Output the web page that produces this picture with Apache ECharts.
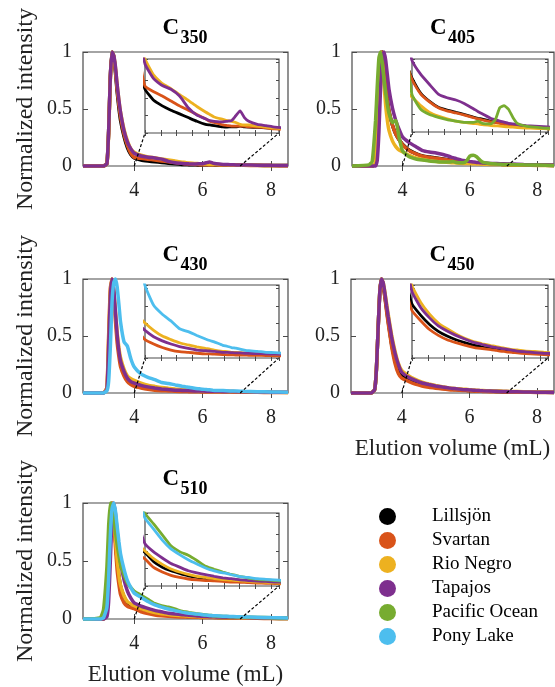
<!DOCTYPE html>
<html><head><meta charset="utf-8">
<script src="https://cdn.jsdelivr.net/npm/echarts@6/dist/echarts.min.js"></script>
<style>html,body{margin:0;padding:0;background:#fff}#c{width:555px;height:687px}</style>
</head><body><div id="c"></div>
<script>
// ---------- data ----------
const volume = [2.5,3.0,3.1,3.2,3.25,3.3,3.35,3.4,3.45,3.5,3.55,3.6,3.7,3.8,3.9,
  4.0,4.2,4.4,4.6,4.8,5.0,5.2,5.4,5.5,5.6,5.8,5.9,6.0,6.1,6.2,6.3,6.4,6.6,6.8,7.0,7.2,7.6,8.0,8.5];
const samples = ['Lillsjön','Svartan','Rio Negro','Tapajos','Pacific Ocean','Pony Lake'];
const sampleColors = ['#000000','#D95319','#EDB120','#7E2F8E','#77AC30','#4DBEEE'];
const panelLabels = ['350','405','430','450','510'];
const xTicks = [4,6,8];
const yTicks = [0,0.5,1];
const zoomWindow = [4,7.1];
const insetYMax = [0.12,0.26,0.23,0.2,0.24];

// C350
const c350_lillsjon = [0,0,0,0.02,0.3,0.78,1.0,0.96,0.82,0.65,0.51,0.4,0.26,0.16,0.1,
  0.071,0.053,0.044,0.037,0.031,0.025,0.019,0.014,0.013,0.012,0.010,0.0096,0.010,0.010,0.011,0.010,0.0096,0.009,0.0084,0.0078,0.0072,0.006,0.0048,0.0036];
const c350_svartan = [0,0,0,0.02,0.3,0.78,1.0,0.96,0.84,0.67,0.54,0.43,0.28,0.18,0.11,
  0.076,0.067,0.060,0.052,0.044,0.037,0.030,0.023,0.019,0.017,0.013,0.012,0.011,0.011,0.011,0.011,0.010,0.0096,0.0084,0.0066,0.006,0.0048,0.0036,0.0024];
const c350_rionegro = [0,0,0,0.02,0.28,0.75,1.0,0.97,0.86,0.71,0.58,0.47,0.32,0.22,0.15,
  0.12,0.094,0.080,0.072,0.062,0.053,0.043,0.034,0.030,0.026,0.022,0.020,0.019,0.017,0.014,0.013,0.013,0.011,0.0096,0.0078,0.0072,0.006,0.0048,0.0036];
const c350_tapajos = [0,0,0,0.02,0.3,0.78,1.0,0.97,0.87,0.71,0.58,0.47,0.31,0.21,0.15,
  0.112,0.088,0.077,0.071,0.060,0.041,0.029,0.023,0.020,0.019,0.018,0.019,0.020,0.028,0.036,0.025,0.019,0.014,0.012,0.0096,0.0084,0.0072,0.006,0.0048];
// C405
const c405_lillsjon = [0,0,0,0.02,0.25,0.7,0.97,1.0,0.87,0.71,0.58,0.48,0.36,0.28,0.23,
  0.192,0.138,0.109,0.088,0.078,0.070,0.062,0.053,0.049,0.046,0.038,0.035,0.033,0.029,0.027,0.025,0.023,0.020,0.017,0.014,0.013,0.010,0.008,0.005];
const c405_svartan = [0,0,0,0.02,0.25,0.7,0.97,1.0,0.88,0.72,0.58,0.48,0.36,0.28,0.23,
  0.187,0.135,0.107,0.086,0.075,0.068,0.060,0.051,0.047,0.043,0.036,0.034,0.031,0.027,0.025,0.023,0.022,0.018,0.016,0.014,0.012,0.009,0.0065,0.0047];
const c405_rionegro = [0,0,0,0.03,0.35,0.8,1.0,0.9,0.72,0.53,0.4,0.31,0.22,0.17,0.14,
  0.125,0.094,0.070,0.057,0.047,0.039,0.034,0.030,0.029,0.026,0.023,0.022,0.021,0.0195,0.018,0.017,0.016,0.014,0.013,0.012,0.010,0.008,0.005,0.004];
const c405_tapajos = [0,0,0,0,0.05,0.3,0.7,0.95,1.0,0.93,0.8,0.67,0.51,0.4,0.32,
  0.255,0.205,0.169,0.135,0.122,0.114,0.101,0.083,0.073,0.065,0.048,0.044,0.039,0.035,0.031,0.029,0.026,0.023,0.021,0.019,0.017,0.013,0.010,0.008];
const c405_pacific = [0,0.01,0.04,0.4,0.7,0.95,1.0,0.9,0.76,0.64,0.54,0.46,0.38,0.4,0.25,
  0.133,0.081,0.062,0.052,0.044,0.039,0.034,0.034,0.039,0.031,0.029,0.044,0.086,0.094,0.081,0.052,0.031,0.021,0.017,0.014,0.013,0.010,0.008,0.005];
// C430
const c430_svartan = [0,0,0,0.05,0.5,0.92,1.0,0.86,0.63,0.44,0.32,0.23,0.15,0.1,0.075,
  0.058,0.044,0.033,0.025,0.020,0.018,0.015,0.013,0.013,0.012,0.011,0.010,0.0097,0.0094,0.0092,0.009,0.0087,0.0083,0.0078,0.0071,0.0067,0.0055,0.0046,0.0035];
const c430_rionegro = [0,0,0,0.04,0.45,0.88,1.0,0.9,0.71,0.53,0.4,0.31,0.21,0.15,0.125,
  0.110,0.087,0.069,0.058,0.048,0.041,0.035,0.030,0.028,0.025,0.021,0.020,0.018,0.018,0.017,0.016,0.016,0.015,0.014,0.012,0.011,0.009,0.007,0.005];
const c430_tapajos = [0,0,0,0.03,0.4,0.85,1.0,0.91,0.71,0.51,0.37,0.28,0.19,0.13,0.1,
  0.087,0.067,0.054,0.044,0.036,0.030,0.025,0.023,0.022,0.021,0.018,0.018,0.017,0.016,0.016,0.015,0.015,0.014,0.013,0.012,0.011,0.009,0.007,0.006];
const c430_ponylake = [0,0,0,0.02,0.1,0.4,0.8,0.97,1.0,0.93,0.78,0.62,0.45,0.41,0.3,
  0.228,0.166,0.138,0.117,0.092,0.083,0.071,0.060,0.055,0.051,0.040,0.037,0.033,0.031,0.028,0.025,0.023,0.021,0.018,0.017,0.015,0.0115,0.009,0.007];
// C450
const c450_lillsjon = [0,0,0,0.03,0.2,0.55,0.88,1.0,0.95,0.85,0.74,0.63,0.43,0.29,0.2,
  0.148,0.117,0.092,0.073,0.06,0.05,0.042,0.035,0.033,0.03,0.026,0.024,0.022,0.021,0.019,0.018,0.017,0.015,0.014,0.012,0.011,0.0088,0.007,0.0054];
const c450_svartan = [0,0,0,0.03,0.2,0.55,0.88,1.0,0.95,0.84,0.72,0.61,0.41,0.26,0.17,
  0.13,0.102,0.078,0.062,0.05,0.042,0.035,0.029,0.027,0.026,0.023,0.021,0.019,0.018,0.016,0.015,0.014,0.012,0.011,0.0092,0.008,0.0064,0.005,0.0036];
const c450_rionegro = [0,0,0,0.03,0.2,0.55,0.88,1.0,0.97,0.89,0.79,0.69,0.51,0.37,0.26,
  0.198,0.152,0.12,0.096,0.08,0.066,0.054,0.045,0.042,0.039,0.034,0.032,0.029,0.027,0.025,0.023,0.022,0.019,0.018,0.016,0.014,0.012,0.009,0.007];
const c450_tapajos = [0,0,0,0.03,0.2,0.55,0.88,1.0,0.97,0.88,0.77,0.67,0.49,0.35,0.25,
  0.182,0.138,0.11,0.088,0.074,0.062,0.052,0.043,0.04,0.037,0.031,0.029,0.027,0.025,0.023,0.021,0.019,0.017,0.015,0.013,0.012,0.0096,0.0076,0.006];
// C510
const c510_lillsjon = [0,0,0,0.05,0.45,0.88,1.0,0.89,0.68,0.5,0.37,0.28,0.19,0.14,0.12,
  0.11,0.08,0.062,0.05,0.041,0.033,0.028,0.025,0.023,0.022,0.021,0.02,0.019,0.018,0.017,0.016,0.015,0.013,0.012,0.011,0.0096,0.0077,0.006,0.0046];
const c510_svartan = [0,0,0,0.05,0.45,0.88,1.0,0.86,0.62,0.42,0.3,0.21,0.14,0.11,0.098,
  0.089,0.061,0.046,0.035,0.028,0.023,0.02,0.018,0.018,0.017,0.015,0.014,0.013,0.013,0.012,0.012,0.011,0.0098,0.0089,0.0079,0.0072,0.0058,0.0046,0.0034];
const c510_rionegro = [0,0,0,0.05,0.45,0.88,1.0,0.89,0.69,0.51,0.38,0.29,0.2,0.15,0.13,
  0.115,0.09,0.071,0.056,0.046,0.038,0.032,0.028,0.026,0.024,0.021,0.02,0.019,0.018,0.017,0.016,0.015,0.013,0.012,0.01,0.0094,0.0074,0.0058,0.0043];
const c510_tapajos = [0,0,0,0.02,0.15,0.5,0.88,1.0,0.91,0.75,0.61,0.49,0.34,0.24,0.18,
  0.139,0.112,0.092,0.074,0.062,0.05,0.043,0.037,0.035,0.032,0.027,0.025,0.024,0.022,0.02,0.019,0.018,0.016,0.015,0.013,0.012,0.0096,0.0077,0.006];
const c510_pacific = [0,0.01,0.08,0.45,0.8,1.0,0.97,0.88,0.75,0.64,0.55,0.47,0.38,0.31,0.27,
  0.238,0.204,0.168,0.132,0.113,0.101,0.084,0.065,0.06,0.055,0.046,0.042,0.038,0.035,0.031,0.029,0.026,0.022,0.02,0.018,0.016,0.013,0.011,0.008];
const c510_ponylake = [0,0,0.01,0.1,0.35,0.72,0.95,1.0,0.93,0.8,0.67,0.56,0.43,0.33,0.27,
  0.223,0.187,0.151,0.122,0.103,0.086,0.072,0.059,0.054,0.05,0.043,0.041,0.037,0.034,0.031,0.029,0.028,0.024,0.022,0.02,0.018,0.015,0.012,0.0096];

const panelData = [
  [['Lillsjön',c350_lillsjon],['Svartan',c350_svartan],['Rio Negro',c350_rionegro],['Tapajos',c350_tapajos]],
  [['Lillsjön',c405_lillsjon],['Svartan',c405_svartan],['Rio Negro',c405_rionegro],['Tapajos',c405_tapajos],['Pacific Ocean',c405_pacific]],
  [['Svartan',c430_svartan],['Rio Negro',c430_rionegro],['Tapajos',c430_tapajos],['Pony Lake',c430_ponylake]],
  [['Lillsjön',c450_lillsjon],['Svartan',c450_svartan],['Rio Negro',c450_rionegro],['Tapajos',c450_tapajos]],
  [['Lillsjön',c510_lillsjon],['Svartan',c510_svartan],['Rio Negro',c510_rionegro],['Tapajos',c510_tapajos],['Pacific Ocean',c510_pacific],['Pony Lake',c510_ponylake]]
];

// ---------- layout ----------
const mainBoxes = [
  {left:83,top:52,width:205,height:114},
  {left:352,top:52,width:202,height:114},
  {left:83,top:279,width:205,height:114},
  {left:351,top:279,width:203,height:114},
  {left:83,top:503,width:205,height:117}
];
const insetBoxes = [
  {left:145,top:59,width:134,height:74},
  {left:412,top:59,width:136,height:73},
  {left:145,top:285,width:134,height:73},
  {left:412,top:285,width:136,height:73},
  {left:145,top:513,width:134,height:73}
];
const FONT = '"Liberation Serif","Times New Roman",serif';
const AX = '#4a4a4a';
const TXT = '#222';

const grids = [], xAxes = [], yAxes = [], series = [];
mainBoxes.forEach(b => grids.push(Object.assign({show:true, borderColor:AX, borderWidth:1.2, backgroundColor:'transparent', containLabel:false}, b)));
insetBoxes.forEach(b => grids.push(Object.assign({show:true, borderColor:AX, borderWidth:1.2, backgroundColor:'#fff', z:5, containLabel:false}, b)));

panelLabels.forEach((lab, p) => {
  const showX = (p === 3 || p === 4);
  const showY = (p === 0 || p === 2 || p === 4);
  const tick = {show:true, inside:true, length:5, customValues:xTicks, lineStyle:{color:AX, width:1}};
  xAxes.push({gridIndex:p, type:'value', position:'bottom', min:2.5, max:8.5,
    axisLine:{show:false}, splitLine:{show:false}, axisTick:tick,
    axisLabel:{show:true, customValues:xTicks, fontSize:20, fontFamily:FONT, color:TXT, margin:15},
    name: showX ? 'Elution volume (mL)' : '', nameLocation:'middle', nameGap:44,
    nameTextStyle:{fontSize:23, fontFamily:FONT, color:TXT}});
  xAxes.push({gridIndex:p, type:'value', position:'top', min:2.5, max:8.5,
    axisLine:{show:false}, splitLine:{show:false}, axisTick:tick, axisLabel:{show:false}});
  const iv = (zoomWindow[1]-zoomWindow[0])/8.5;
  const itick = {show:true, inside:true, length:3, lineStyle:{color:AX, width:1}};
  ['bottom','top'].forEach(pos => xAxes.push({gridIndex:5+p, type:'value', position:pos,
    min:zoomWindow[0], max:zoomWindow[1], interval:iv, z:6,
    axisLine:{show:false}, splitLine:{show:false}, axisTick:itick, axisLabel:{show:false}}));
  const ytick = {show:true, inside:true, length:5, customValues:yTicks, lineStyle:{color:AX, width:1}};
  yAxes.push({gridIndex:p, type:'value', position:'left', min:0, max:1, interval:0.5,
    axisLine:{show:false}, splitLine:{show:false}, axisTick:ytick,
    axisLabel:{show:true, fontSize:20, fontFamily:FONT, color:TXT, margin:11},
    name: showY ? 'Normalized intensity' : '', nameLocation:'middle', nameGap:45, nameRotate:90,
    nameTextStyle:{fontSize:24, fontFamily:FONT, color:TXT}});
  yAxes.push({gridIndex:p, type:'value', position:'right', min:0, max:1, interval:0.5,
    axisLine:{show:false}, splitLine:{show:false}, axisTick:ytick, axisLabel:{show:false}});
  ['left','right'].forEach(pos => yAxes.push({gridIndex:5+p, type:'value', position:pos,
    min:0, max:insetYMax[p], interval:insetYMax[p]/4.2, z:6,
    axisLine:{show:false}, splitLine:{show:false}, axisTick:itick, axisLabel:{show:false}}));

  panelData[p].forEach(([name, arr], k) => {
    const color = sampleColors[samples.indexOf(name)];
    const data = volume.map((v, i) => [v, arr[i]]);
    series.push({type:'line', name, data, xAxisIndex:4*p, yAxisIndex:4*p, showSymbol:false,
      symbol:'circle', color, lineStyle:{width:3.5, color}, smooth:0.15, clip:false, z:2, animation:false});
    series.push({type:'line', name, data, xAxisIndex:4*p+2, yAxisIndex:4*p+2, showSymbol:false,
      symbol:'circle', color, lineStyle:{width:2.8, color}, smooth:0.15, clip:true, z:7, animation:false});
  });
});

const chart = echarts.init(document.getElementById('c'), null, {renderer:'canvas'});
chart.setOption({
  animation:false,
  backgroundColor:'#fff',
  grid:grids, xAxis:xAxes, yAxis:yAxes, series,
  legend:{data:samples, orient:'vertical', left:374, top:502, itemWidth:17, itemHeight:17, itemGap:5,
    icon:'circle', selectedMode:false,
    textStyle:{fontSize:19, fontFamily:FONT, color:'#000', padding:[0,0,0,31]}}
});

const g = [];
panelLabels.forEach((lab, p) => {
  const b = mainBoxes[p];
  const cx = b.left + b.width/2;
  g.push({type:'text', z:10, style:{text:'C', x:cx-23, y:b.top-35, fill:'#000',
    font:'bold 23px ' + FONT, textAlign:'left', textVerticalAlign:'top', align:'left', verticalAlign:'top'}});
  g.push({type:'text', z:10, style:{text:lab, x:cx-5, y:b.top-23, fill:'#000',
    font:'bold 18px ' + FONT, textAlign:'left', textVerticalAlign:'top', align:'left', verticalAlign:'top'}});
  zoomWindow.forEach(zx => {
    const a = chart.convertToPixel({xAxisIndex:4*p, yAxisIndex:4*p}, [zx, 0]);
    const c = chart.convertToPixel({xAxisIndex:4*p+2, yAxisIndex:4*p+2}, [zx, 0]);
    g.push({type:'line', z:4, silent:true, shape:{x1:a[0], y1:a[1], x2:c[0], y2:c[1]},
      style:{stroke:'#000', lineWidth:1.2, lineDash:[3,2]}});
  });
});
chart.setOption({graphic:g});
</script></body></html>
